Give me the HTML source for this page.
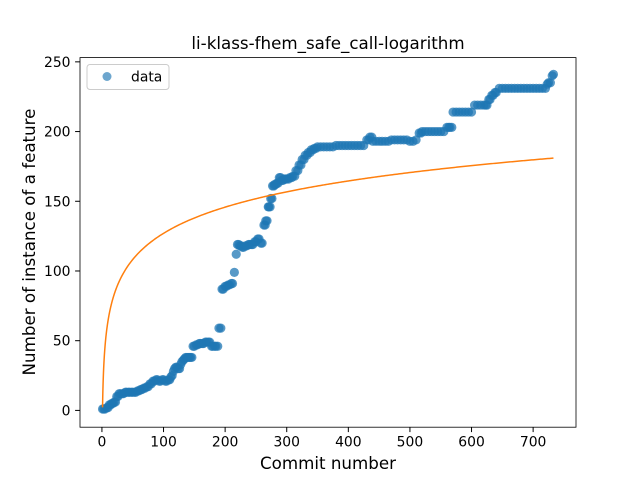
<!DOCTYPE html>
<html><head><meta charset="utf-8"><style>
body{margin:0;background:#fff}
svg{font-family:"DejaVu Sans","Liberation Sans",sans-serif}
</style></head><body>
<svg id="c" width="640" height="480"></svg>
<script>
const commits=[
1,3,5,8,10,12,14,16,18,20,
22,24,26,28,30,33,35,38,40,43,
45,48,50,53,55,58,60,63,65,68,
70,73,75,78,80,83,85,88,90,93,
95,98,100,103,105,108,110,112,114,116,
118,120,122,124,126,128,130,132,134,136,
138,140,142,144,146,148,150,153,155,158,
160,163,165,168,170,173,175,178,180,183,
185,188,190,193,195,197,200,202,205,207,
210,212,215,218,220,222,224,226,228,230,
233,235,238,240,243,245,248,250,253,255,
258,260,263,265,266,268,270,271,273,274,
276,277,279,280,282,284,286,288,290,292,
294,296,298,300,303,305,308,310,313,315,
318,320,323,325,328,330,333,335,338,340,
343,345,348,350,355,360,365,370,375,380,
385,390,395,400,405,410,415,420,425,430,
433,435,438,440,445,450,455,460,465,470,
475,480,485,490,495,500,505,510,515,518,
520,525,530,535,540,545,550,555,560,563,
565,568,570,575,580,585,590,595,600,605,
610,615,620,623,625,628,630,633,635,638,
640,645,650,655,660,665,670,675,680,685,
690,695,700,705,710,715,720,723,725,728,
731,733];
const values=[
1,1,1,2,2,4,4,5,5,6,
6,10,10,12,12,12,12,13,13,13,
13,13,13,13,13,14,14,15,15,16,
16,17,17,19,19,21,21,22,22,21,
21,22,22,21,21,22,22,24,25,28,
30,31,31,30,30,33,35,36,37,38,
38,38,38,38,38,46,46,47,47,48,
48,48,48,49,49,49,49,46,46,46,
46,46,59,59,87,87,89,89,90,90,
91,91,99,112,119,119,118,118,117,117,
118,118,119,119,119,119,121,121,123,123,
120,120,133,133,136,136,146,146,146,152,
152,161,161,162,162,163,163,167,167,165,
165,166,166,166,166,167,167,168,168,172,
172,176,176,180,180,183,183,185,185,187,
187,188,188,189,189,189,189,189,189,190,
190,190,190,190,190,190,190,190,190,194,
194,196,196,193,193,193,193,193,193,194,
194,194,194,194,194,193,193,194,199,199,
200,200,200,200,200,200,200,200,203,203,
203,203,214,214,214,214,214,214,214,219,
219,219,219,219,219,223,223,226,226,228,
228,231,231,231,231,231,231,231,231,231,
231,231,231,231,231,231,231,234,235,235,
240,241];
const xTicks=[0,100,200,300,400,500,600,700];
const yTicks=[0,50,100,150,200,250];
const fitA=2.2, fitB=27.1;
const NS="http://www.w3.org/2000/svg";
const svg=document.getElementById('c');
const L=80,R=576,T=57.6,B=427.2;
const xmin=-35.6,xmax=769.6,ymin=-12.05,ymax=253.05;
const sx=v=>L+(v-xmin)/(xmax-xmin)*(R-L);
const sy=v=>B-(v-ymin)/(ymax-ymin)*(B-T);
function mk(t,a,p){const e=document.createElementNS(NS,t);for(const k in a)e.setAttribute(k,a[k]);(p||svg).appendChild(e);return e;}
const pts=mk('g',{});


const n=Math.min(commits.length,values.length);
for(let i=0;i<n;i++){const d=mk('circle',{cx:sx(commits[i]),cy:sy(values[i]),r:4.6,fill:'#1f77b4','fill-opacity':0.75},pts);

}
let dp='';for(let x=1;x<=733;x+=(x<20?0.25:2)){dp+=(dp?'L':'M')+sx(x).toFixed(2)+','+sy(fitA+fitB*Math.log(x)).toFixed(2);}
dp+='L'+sx(733)+','+sy(fitA+fitB*Math.log(733));
const fl=mk('path',{d:dp,fill:'none',stroke:'#ff7f0e','stroke-width':1.5});


const fr=mk('rect',{x:L,y:T,width:R-L,height:B-T,fill:'none',stroke:'#000','stroke-width':0.8});


xTicks.forEach(v=>{mk('line',{x1:sx(v),x2:sx(v),y1:B,y2:B+4.9,stroke:'#000','stroke-width':1});
const t=mk('text',{x:sx(v),y:B+19.5,'text-anchor':'middle','font-size':13.9});t.textContent=v;

});
yTicks.forEach(v=>{mk('line',{x1:L-4.9,x2:L,y1:sy(v),y2:sy(v),stroke:'#000','stroke-width':1});
const t=mk('text',{x:L-9.5,y:sy(v)+5,'text-anchor':'end','font-size':13.9});t.textContent=v;

});
const ti=mk('text',{x:328,y:49,'text-anchor':'middle','font-size':16.7});ti.textContent='li-klass-fhem_safe_call-logarithm';


const xl=mk('text',{x:328,y:469,'text-anchor':'middle','font-size':16.7});xl.textContent='Commit number';


const yl=mk('text',{x:35,y:242,'text-anchor':'middle','font-size':16.7,transform:'rotate(-90 35 242)'});yl.textContent='Number of instance of a feature';


const lg=mk('g',{});


mk('rect',{x:87,y:64.5,width:82,height:25,rx:3,fill:'#fff','fill-opacity':0.8,stroke:'#ccc','stroke-width':1},lg);
mk('circle',{cx:107,cy:76.5,r:4.5,fill:'#1f77b4','fill-opacity':0.65},lg);
const lt=mk('text',{x:131,y:81.5,'font-size':13.9},lg);lt.textContent='data';


</script>
</body></html>
